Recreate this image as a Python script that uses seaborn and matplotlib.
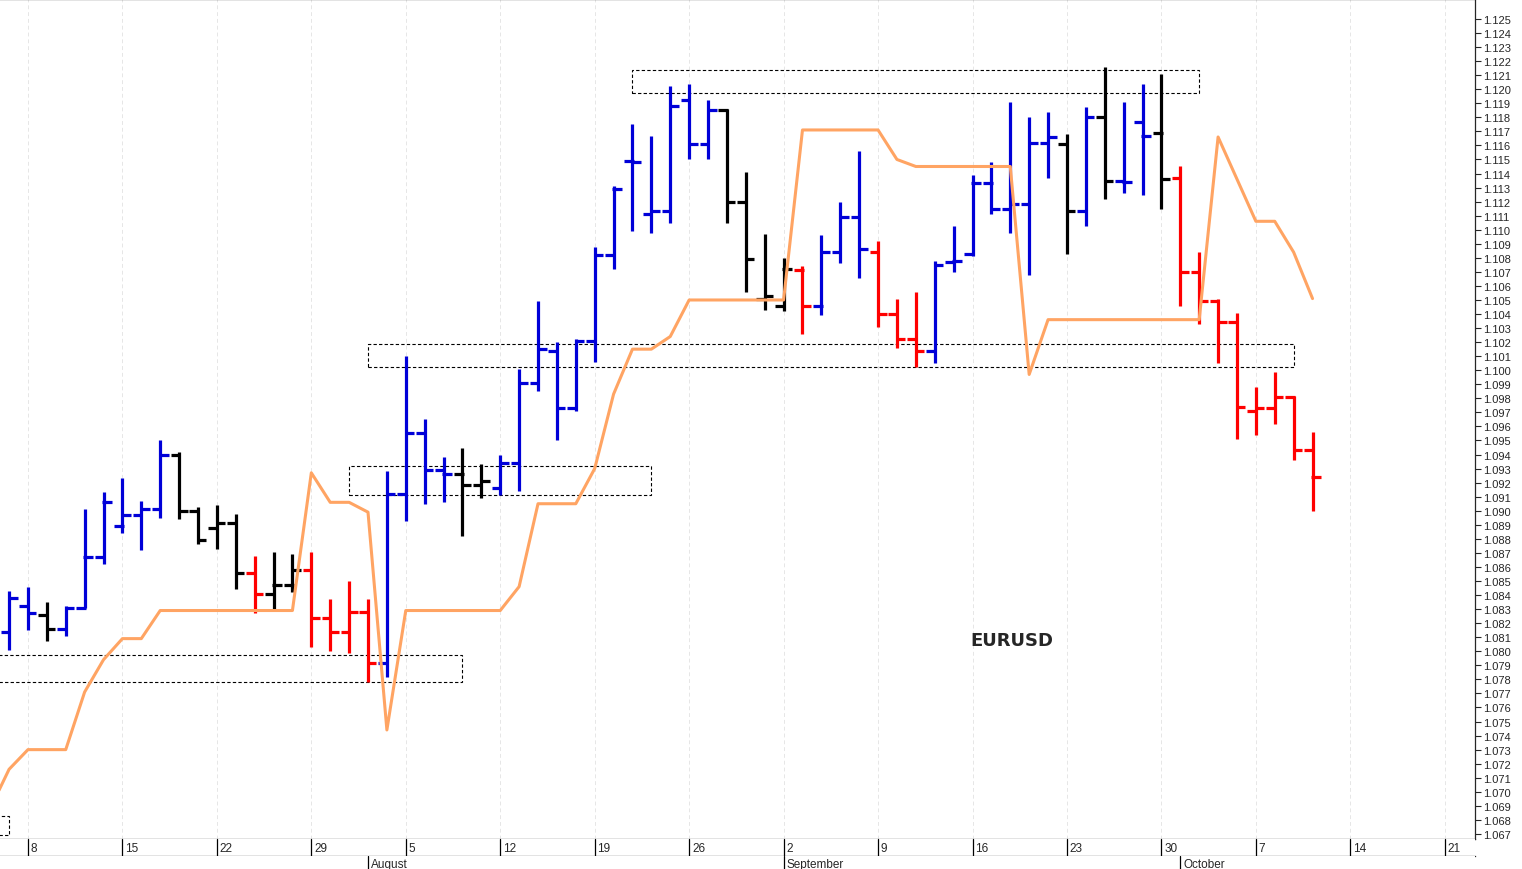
import numpy as np
import pandas as pd
import matplotlib
matplotlib.use("Agg")
import matplotlib.pyplot as plt
from matplotlib.patches import Rectangle
import seaborn as sns

# daily OHLC, EURUSD, one bar per trading day starting Fri 5 July
highs = [1.0843, 1.0846, 1.0835, 1.0832, 1.0901, 1.0913, 1.0923, 1.0907, 1.0950, 1.0942,
         1.0903, 1.0904, 1.0898, 1.0868, 1.0871, 1.0869, 1.0871, 1.0837, 1.0850, 1.0837,
         1.0928, 1.1010, 1.0965, 1.0938, 1.0945, 1.0933, 1.0940, 1.1001, 1.1049, 1.1020,
         1.1022, 1.1088, 1.1131, 1.1175, 1.1167, 1.1202, 1.1204, 1.1192, 1.1186, 1.1141,
         1.1097, 1.1080, 1.1074, 1.1096, 1.1120, 1.1156, 1.1092, 1.1051, 1.1056, 1.1078,
         1.1103, 1.1139, 1.1148, 1.1191, 1.1180, 1.1184, 1.1168, 1.1187, 1.1216, 1.1191,
         1.1204, 1.1211, 1.1145, 1.1084, 1.1051, 1.1041, 1.0988, 1.0999, 1.0982, 1.0956]
lows = [1.0801, 1.0815, 1.0807, 1.0811, 1.0831, 1.0862, 1.0884, 1.0872, 1.0895, 1.0894,
        1.0876, 1.0873, 1.0844, 1.0827, 1.0830, 1.0842, 1.0803, 1.0800, 1.0799, 1.0778,
        1.0782, 1.0893, 1.0905, 1.0906, 1.0882, 1.0909, 1.0911, 1.0914, 1.0985, 1.0950,
        1.0971, 1.1006, 1.1072, 1.1099, 1.1098, 1.1105, 1.1150, 1.1150, 1.1105, 1.1056,
        1.1043, 1.1042, 1.1026, 1.1039, 1.1076, 1.1066, 1.1031, 1.1016, 1.1002, 1.1005,
        1.1070, 1.1081, 1.1111, 1.1098, 1.1068, 1.1137, 1.1083, 1.1103, 1.1122, 1.1126,
        1.1125, 1.1115, 1.1046, 1.1033, 1.1005, 1.0951, 1.0954, 1.0962, 1.0936, 1.0900]
opens = [1.0814, 1.0832, 1.0826, 1.0816, 1.0831, 1.0867, 1.0889, 1.0897, 1.0901, 1.0940,
         1.0900, 1.0888, 1.0891, 1.0856, 1.0841, 1.0847, 1.0858, 1.0824, 1.0814, 1.0828,
         1.0792, 1.0912, 1.0955, 1.0929, 1.0926, 1.0918, 1.0916, 1.0934, 1.0991, 1.1014,
         1.0973, 1.1021, 1.1082, 1.1149, 1.1111, 1.1113, 1.1192, 1.1161, 1.1185, 1.1120,
         1.1051, 1.1046, 1.1071, 1.1046, 1.1084, 1.1109, 1.1084, 1.1040, 1.1022, 1.1014,
         1.1077, 1.1083, 1.1133, 1.1115, 1.1118, 1.1162, 1.1161, 1.1113, 1.1180, 1.1135,
         1.1177, 1.1169, 1.1137, 1.1070, 1.1049, 1.1034, 1.0971, 1.0973, 1.0981, 1.0943]
closes = [1.0838, 1.0827, 1.0816, 1.0831, 1.0867, 1.0906, 1.0897, 1.0901, 1.0940, 1.0900,
          1.0879, 1.0891, 1.0856, 1.0841, 1.0847, 1.0858, 1.0824, 1.0814, 1.0828, 1.0792,
          1.0912, 1.0955, 1.0929, 1.0926, 1.0918, 1.0921, 1.0934, 1.0991, 1.1015, 1.0973,
          1.1021, 1.1082, 1.1129, 1.1148, 1.1113, 1.1188, 1.1161, 1.1185, 1.1120, 1.1079,
          1.1053, 1.1072, 1.1046, 1.1084, 1.1109, 1.1086, 1.1040, 1.1022, 1.1014, 1.1075,
          1.1078, 1.1133, 1.1115, 1.1118, 1.1162, 1.1166, 1.1113, 1.1180, 1.1135, 1.1134,
          1.1167, 1.1136, 1.1070, 1.1049, 1.1034, 1.0974, 1.0973, 1.0981, 1.0943, 1.0924]
bar_colors = (["b", "b", "k", "b", "b", "b", "b", "b", "b"] + ["k"] * 4 + ["r"] + ["k"] * 2
              + ["r"] * 4 + ["b"] * 4 + ["k"] * 2 + ["b"] * 12 + ["k"] * 4 + ["r"]
              + ["b"] * 3 + ["r"] * 3 + ["b"] * 7 + ["k", "b", "k", "b", "b", "k"] + ["r"] * 8)

# orange indicator line, starts one bar before the first visible bar
indicator = [1.0688, 1.0716, 1.0730, 1.0730, 1.0730, 1.0771, 1.0794, 1.0809, 1.0809, 1.0829,
             1.0829, 1.0829, 1.0829, 1.0829, 1.0829, 1.0829, 1.0829, 1.0927, 1.0906, 1.0906,
             1.0899, 1.0744, 1.0829, 1.0829, 1.0829, 1.0829, 1.0829, 1.0829, 1.0846, 1.0905,
             1.0905, 1.0905, 1.0930, 1.0983, 1.1015, 1.1015, 1.1024, 1.1050, 1.1050, 1.1050,
             1.1050, 1.1050, 1.1050, 1.1171, 1.1171, 1.1171, 1.1171, 1.1171, 1.1150, 1.1145,
             1.1145, 1.1145, 1.1145, 1.1145, 1.1145, 1.0997, 1.1036, 1.1036, 1.1036, 1.1036,
             1.1036, 1.1036, 1.1036, 1.1036, 1.1036, 1.1166, 1.1136, 1.1106, 1.1106, 1.1084,
             1.1051]

# dashed zones: (first bar, last bar, low, high)
zone_start = [33, 19, 18, -3, -3]
zone_end = [63, 68, 34, 24, 0]
zone_low = [1.1197, 1.1002, 1.0911, 1.0778, 1.0669]
zone_high = [1.1214, 1.1019, 1.0932, 1.0797, 1.0683]

week_labels = ["8", "15", "22", "29", "5", "12", "19", "26", "2", "9", "16", "23", "30", "7", "14", "21"]
week_pos = [1 + 5 * k for k in range(len(week_labels))]
month_labels = ["August", "September", "October"]
month_pos = [19, 41, 62]

colors = {"b": "#0000d8", "k": "#000000", "r": "#ff0000"}

sns.set_style("white")
plt.rcParams["font.family"] = ["Liberation Sans", "DejaVu Sans"]

fig = plt.figure(figsize=(15.22, 8.7), dpi=100)
ax = fig.add_axes([0, 1 - 840 / 870, 1475 / 1522, 840 / 870])
strip = fig.add_axes([0, 1 - 857 / 870, 1475 / 1522, 17 / 870], sharex=ax)
mstrip = fig.add_axes([0, 0, 1475 / 1522, 13 / 870], sharex=ax)

x = np.arange(len(highs))
for i in x:
    c = colors[bar_colors[i]]
    ax.vlines(i, lows[i], highs[i], color=c, lw=2.3)
    ax.hlines(opens[i], i - 0.45, i + 0.06, color=c, lw=2.3, capstyle="butt")
    ax.hlines(closes[i], i - 0.06, i + 0.45, color=c, lw=2.3, capstyle="butt")

ind = pd.DataFrame({"idx": np.arange(-1, len(indicator) - 1), "val": indicator})
sns.lineplot(data=ind, x="idx", y="val", ax=ax, color="#ffa463", lw=2.2)

for s, e, lo, hi in zip(zone_start, zone_end, zone_low, zone_high):
    ax.add_patch(Rectangle((s, lo), e - s, hi - lo, fill=False, ec="black",
                           lw=0.8, ls=(0, (3, 2))))

for p in week_pos:
    ax.axvline(p, color="#e6e6e6", lw=0.7, ls=(0, (4, 3)), zorder=0)

ax.text(53.1, 1.0808, "EURUSD", fontsize=13, fontweight="bold", ha="center", va="center",
        family=["DejaVu Sans"])

ax.set_xlim(-0.48, 77.6)
ax.set_ylim(1.06664, 1.12642)
ax.set_xlabel("")
ax.set_ylabel("")
ax.yaxis.tick_right()
ax.set_yticks(np.round(np.arange(1.067, 1.1251, 0.001), 3))
ax.set_yticklabels([f"{v:.3f}" for v in np.arange(1.067, 1.1251, 0.001)], fontsize=8)
ax.tick_params(axis="y", direction="out", length=4, width=0.8, pad=2, right=True)
ax.tick_params(axis="x", bottom=False, labelbottom=False)
ax.spines["left"].set_visible(False)
for side in ["top", "right", "bottom"]:
    ax.spines[side].set_linewidth(0.9)

for a in (strip, mstrip):
    a.set_yticks([])
    a.tick_params(axis="x", bottom=False, labelbottom=False)
    a.set_ylim(0, 1)
    for side in ["left", "right", "top"]:
        a.spines[side].set_visible(False)
    a.spines["bottom"].set_linewidth(0.9)
mstrip.spines["bottom"].set_visible(False)

for p, lab in zip(week_pos, week_labels):
    strip.axvline(p, color="black", lw=0.9)
    strip.text(p + 0.15, 0.45, lab, fontsize=8.5, ha="left", va="center")
for p, lab in zip(month_pos, month_labels):
    mstrip.axvline(p, color="black", lw=0.9)
    mstrip.text(p + 0.15, 0.4, lab, fontsize=8.5, ha="left", va="center")

fig.savefig("out.png", dpi=100)
